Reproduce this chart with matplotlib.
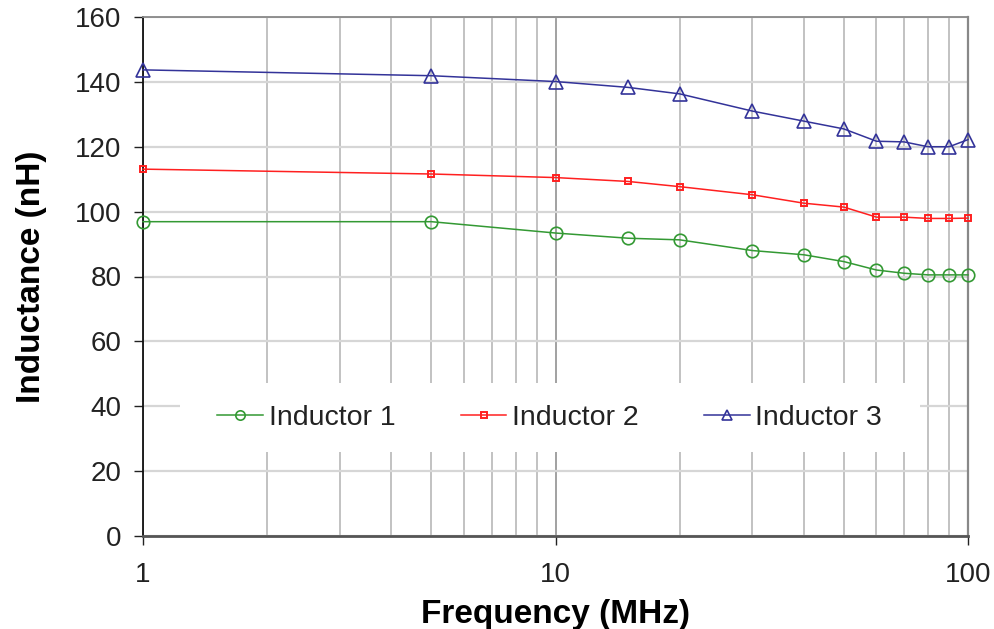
import matplotlib
matplotlib.use("Agg")
import matplotlib.pyplot as plt
from matplotlib.patches import Rectangle
from matplotlib.ticker import FixedLocator, NullFormatter, LogLocator

plt.rcParams['font.family'] = ['Liberation Sans', 'DejaVu Sans']

freq = [1, 5, 10, 15, 20, 30, 40, 50, 60, 70, 80, 90, 100]
inductor1 = [96.9, 96.9, 93.4, 91.8, 91.3, 88.0, 86.7, 84.6, 82.0, 81.0, 80.5, 80.5, 80.5]
inductor2 = [113.1, 111.6, 110.5, 109.3, 107.7, 105.2, 102.6, 101.4, 98.3, 98.3, 97.9, 97.9, 98.0]
inductor3 = [143.7, 141.9, 140.1, 138.3, 136.3, 131.0, 127.9, 125.5, 121.7, 121.5, 120.0, 120.0, 122.2]
series_labels = ["Inductor 1", "Inductor 2", "Inductor 3"]
yticks = [0, 20, 40, 60, 80, 100, 120, 140, 160]
xticks = [1, 10, 100]
xticklabels = ["1", "10", "100"]

fig = plt.figure(figsize=(9.95, 6.29), dpi=100)
ax = fig.add_axes([143/995, 93/629, 825/995, 519/629])

c1, c2, c3 = "#339933", "#ff2020", "#333399"
ax.plot(freq, inductor1, color=c1, lw=1.1, marker='o', ms=9, mfc='none', mec=c1, mew=1.2,
        label=series_labels[0], zorder=5, clip_on=False)
ax.plot(freq, inductor2, color=c2, lw=1.1, marker='s', ms=5, mfc='none', mec=c2, mew=1.4,
        label=series_labels[1], zorder=5, clip_on=False)
ax.plot(freq, inductor3, color=c3, lw=1.1, marker='^', ms=10, mfc='none', mec=c3, mew=1.2,
        label=series_labels[2], zorder=5, clip_on=False)

ax.set_xscale('log')
ax.set_xlim(1, 100)
ax.set_ylim(0, 160)
ax.set_yticks(yticks)
ax.xaxis.set_major_locator(FixedLocator(xticks))
ax.set_xticklabels(xticklabels)
ax.xaxis.set_minor_locator(LogLocator(base=10, subs=range(2, 10)))
ax.xaxis.set_minor_formatter(NullFormatter())

ax.grid(axis='y', which='major', color='#d6d6d6', lw=1.6, zorder=0)
ax.grid(axis='x', which='major', color='#9a9a9a', lw=1.3, zorder=0)
ax.grid(axis='x', which='minor', color='#b8b8b8', lw=1.2, zorder=0)
ax.set_axisbelow(True)

ax.tick_params(axis='both', which='major', direction='out', length=6.5, width=1.0,
               color='#222222', labelsize=20, labelcolor='#222222', pad=9)
ax.tick_params(axis='x', which='minor', length=0)
ax.tick_params(axis='x', which='major', pad=12)

ax.spines['left'].set_color('#111111')
ax.spines['left'].set_linewidth(1.3)
ax.spines['bottom'].set_color('#555555')
ax.spines['bottom'].set_linewidth(2.0)
ax.spines['top'].set_color('#888888')
ax.spines['top'].set_linewidth(1.3)
ax.spines['right'].set_color('#888888')
ax.spines['right'].set_linewidth(1.6)

ax.set_xlabel("Frequency (MHz)", fontsize=24, fontweight='bold', labelpad=8)
ax.set_ylabel("Inductance (nH)", fontsize=24, fontweight='bold', labelpad=20)

ax.add_patch(Rectangle((0.045, 0.162), 0.897, 0.133, transform=ax.transAxes,
                       facecolor='white', edgecolor='none', zorder=3))
ax.legend(loc='center', bbox_to_anchor=(0.493, 0.228), ncol=3, frameon=False,
          fontsize=20.5, handlelength=1.6, handletextpad=0.2, columnspacing=2.3,
          markerscale=0.75, borderaxespad=0, labelcolor='#222222').set_zorder(4)

fig.savefig("out.png", dpi=100)
